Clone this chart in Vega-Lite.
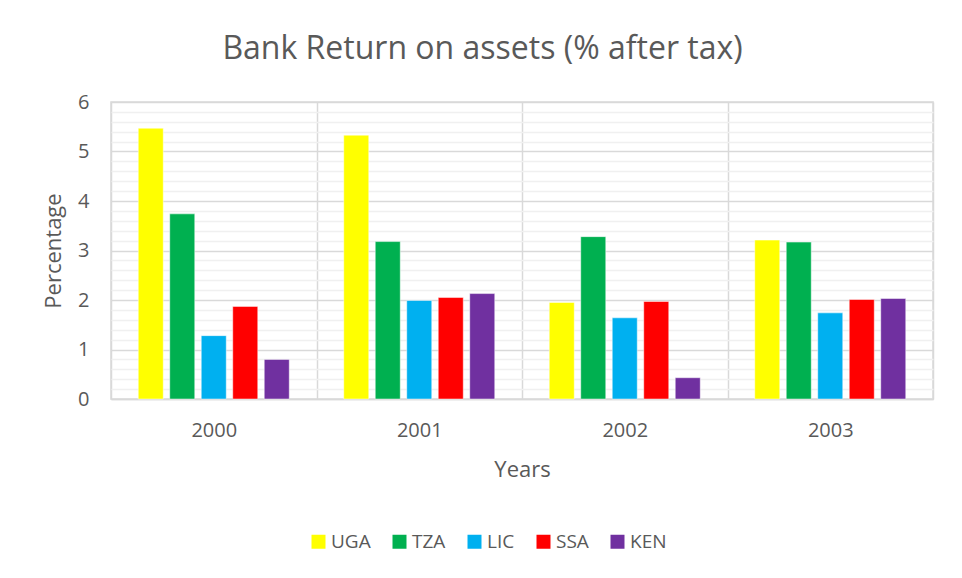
{
  "$schema": "https://vega.github.io/schema/vega-lite/v6.json",
  "width": 822,
  "height": 297,
  "autosize": {"type": "none"},
  "padding": {"left": 111, "top": 102, "right": 29, "bottom": 179},
  "background": "white",
  "config": {
    "font": "Open Sans",
    "view": {"stroke": "#d9d9d9", "strokeWidth": 1.5},
    "axis": {
      "labelColor": "#595959",
      "titleColor": "#595959",
      "labelFont": "Open Sans",
      "titleFont": "Open Sans",
      "titleFontWeight": "normal"
    },
    "legend": {
      "labelColor": "#595959",
      "labelFont": "Open Sans"
    }
  },
  "data": {
    "values": [
      {"year": "2000", "series": "UGA", "value": 5.47},
      {"year": "2000", "series": "TZA", "value": 3.74},
      {"year": "2000", "series": "LIC", "value": 1.28},
      {"year": "2000", "series": "SSA", "value": 1.87},
      {"year": "2000", "series": "KEN", "value": 0.80},
      {"year": "2001", "series": "UGA", "value": 5.33},
      {"year": "2001", "series": "TZA", "value": 3.18},
      {"year": "2001", "series": "LIC", "value": 1.99},
      {"year": "2001", "series": "SSA", "value": 2.05},
      {"year": "2001", "series": "KEN", "value": 2.13},
      {"year": "2002", "series": "UGA", "value": 1.95},
      {"year": "2002", "series": "TZA", "value": 3.28},
      {"year": "2002", "series": "LIC", "value": 1.64},
      {"year": "2002", "series": "SSA", "value": 1.97},
      {"year": "2002", "series": "KEN", "value": 0.43},
      {"year": "2003", "series": "UGA", "value": 3.21},
      {"year": "2003", "series": "TZA", "value": 3.17},
      {"year": "2003", "series": "LIC", "value": 1.74},
      {"year": "2003", "series": "SSA", "value": 2.01},
      {"year": "2003", "series": "KEN", "value": 2.03}
    ]
  },
  "resolve": {"axis": {"y": "independent", "x": "independent"}},
  "layer": [
    {
      "mark": {"type": "bar", "opacity": 0},
      "encoding": {
        "x": {
          "field": "year",
          "type": "nominal",
          "scale": {"paddingInner": 0, "paddingOuter": 0},
          "axis": {
            "title": "Years",
            "titleFontSize": 22,
            "titlePadding": 19,
            "labelFontSize": 20,
            "labelAngle": 0,
            "labelPadding": 21,
            "grid": true,
            "gridColor": "#d9d9d9",
            "gridWidth": 1.5,
            "tickBand": "extent",
            "ticks": false,
            "domainColor": "#d9d9d9",
            "domainWidth": 1.5
          }
        },
        "y": {
          "field": "value",
          "type": "quantitative",
          "scale": {"domain": [0, 6], "nice": false},
          "axis": {
            "orient": "right",
            "values": [0.2, 0.4, 0.6, 0.8, 1.2, 1.4, 1.6, 1.8, 2.2, 2.4, 2.6, 2.8, 3.2, 3.4, 3.6, 3.8, 4.2, 4.4, 4.6, 4.8, 5.2, 5.4, 5.6, 5.8],
            "grid": true,
            "gridColor": "#f0f0f0",
            "gridWidth": 1.5,
            "labels": false,
            "ticks": false,
            "domain": false,
            "title": null
          }
        }
      }
    },
    {
      "mark": {"type": "bar", "opacity": 0},
      "encoding": {
        "x": {
          "field": "year",
          "type": "nominal",
          "axis": {
            "orient": "top",
            "title": "Bank Return on assets (% after tax)",
            "titleFontSize": 32,
            "titlePadding": 37,
            "titleAlign": "center",
            "titleAnchor": "middle",
            "titleX": 371,
            "labels": false,
            "ticks": false,
            "domain": false,
            "grid": false
          }
        },
        "y": {"field": "value", "type": "quantitative", "axis": null}
      }
    },
    {
      "mark": {"type": "bar", "stroke": "white", "strokeOpacity": 0.6, "strokeWidth": 0.8},
      "encoding": {
        "x": {
          "field": "year",
          "type": "nominal",
          "axis": null
        },
        "xOffset": {
          "field": "series",
          "type": "nominal",
          "sort": ["UGA", "TZA", "LIC", "SSA", "KEN"],
          "scale": {"paddingInner": 0.206, "paddingOuter": 0.865}
        },
        "y": {
          "field": "value",
          "type": "quantitative",
          "axis": {
            "orient": "left",
            "values": [0, 1, 2, 3, 4, 5, 6],
            "title": "Percentage",
            "titleFontSize": 22,
            "titlePadding": 12,
            "labelFontSize": 20,
            "labelPadding": 22,
            "grid": true,
            "gridColor": "#d9d9d9",
            "gridWidth": 1.5,
            "ticks": false,
            "domain": false
          }
        },
        "color": {
          "field": "series",
          "type": "nominal",
          "sort": ["UGA", "TZA", "LIC", "SSA", "KEN"],
          "scale": {
            "domain": ["UGA", "TZA", "LIC", "SSA", "KEN"],
            "range": ["#ffff00", "#00b050", "#00b0f0", "#ff0000", "#7030a0"]
          },
          "legend": {
            "orient": "none",
            "legendX": 198,
            "legendY": 430,
            "direction": "horizontal",
            "title": null,
            "symbolType": "square",
            "symbolSize": 196,
            "symbolStrokeWidth": 0,
            "labelFontSize": 19,
            "labelOffset": 3,
            "columnPadding": 19
          }
        }
      }
    }
  ]
}
